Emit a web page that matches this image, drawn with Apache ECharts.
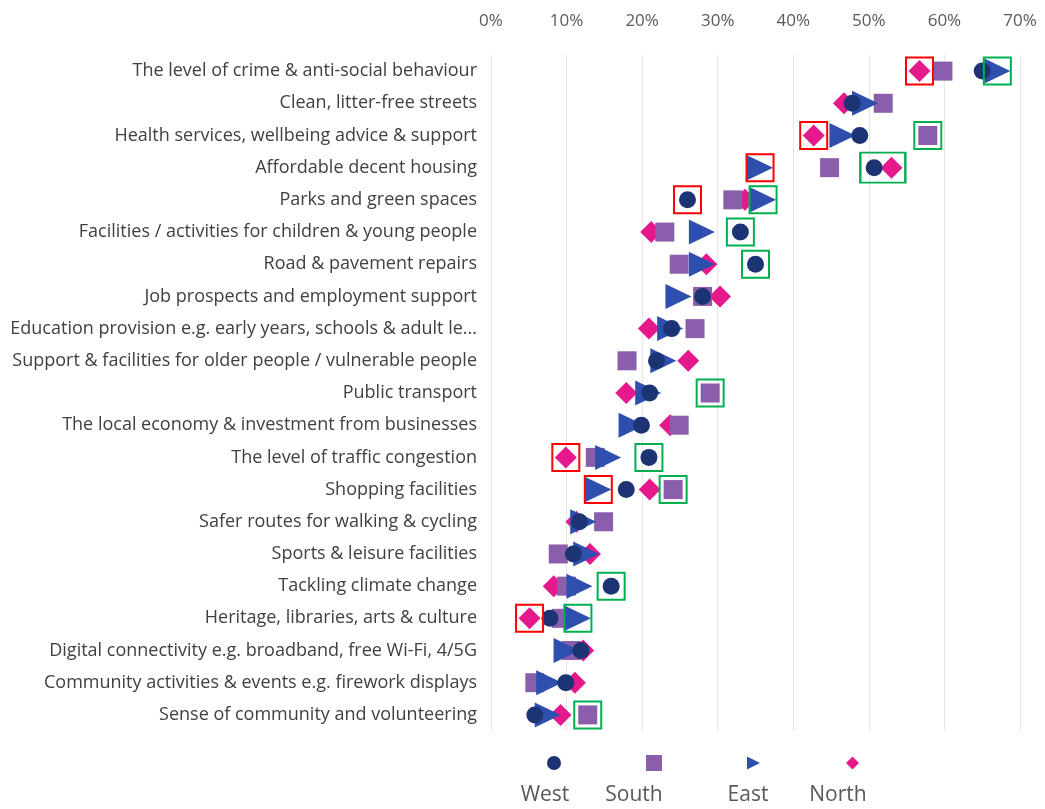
<!DOCTYPE html>
<html>
<head>
<meta charset="utf-8">
<script src="https://cdn.jsdelivr.net/npm/echarts@6/dist/echarts.min.js"></script>
<style>
  html, body { margin: 0; padding: 0; background: #fff; }
  #main { width: 1045px; height: 809px; }
</style>
</head>
<body>
<div id="main"></div>
<script>
// categories, top to bottom
var categories = [
    'The level of crime & anti-social behaviour',
    'Clean, litter-free streets',
    'Health services, wellbeing advice & support',
    'Affordable decent housing',
    'Parks and green spaces',
    'Facilities / activities for children & young people',
    'Road & pavement repairs',
    'Job prospects and employment support',
    'Education provision e.g. early years, schools & adult learning',
    'Support & facilities for older people / vulnerable people',
    'Public transport',
    'The local economy & investment from businesses',
    'The level of traffic congestion',
    'Shopping facilities',
    'Safer routes for walking & cycling',
    'Sports & leisure facilities',
    'Tackling climate change',
    'Heritage, libraries, arts & culture',
    'Digital connectivity e.g. broadband, free Wi-Fi, 4/5G',
    'Community activities & events e.g. firework displays',
    'Sense of community and volunteering'
];
// values in %
var west  = [65, 47.8, 48.8, 50.7, 26, 33, 35, 28, 23.9, 21.9, 21, 19.9, 20.9, 17.9, 11.7, 10.9, 15.9, 7.8, 11.9, 9.9, 5.8];
var south = [59.8, 51.9, 57.8, 44.8, 32, 23, 24.9, 28, 27, 18, 29, 24.9, 13.8, 24.1, 14.9, 8.9, 10, 9.3, 10.6, 5.8, 12.8];
var east  = [67, 49.5, 46.5, 35.6, 36, 27.9, 27.9, 24.8, 23.7, 22.8, 20.8, 18.6, 15.5, 14.2, 12.2, 12.6, 11.7, 11.5, 10, 7.7, 7.5];
var north = [56.7, 46.7, 42.7, 53, 33.6, 21.2, 28.5, 30.3, 20.9, 26.1, 17.9, 23.7, 9.9, 21, 11.3, 13.1, 8.3, 5.1, 12.2, 11.1, 9.2];
var xTicks = [0, 10, 20, 30, 40, 50, 60, 70];

// highlighted points (series, row index)
var redBoxes = [['north', 0], ['north', 2], ['east', 3], ['west', 4], ['north', 12], ['east', 13], ['north', 17]];
var greenBoxes = [['east', 0], ['south', 2], ['east', 4], ['west', 5], ['west', 6], ['south', 10], ['west', 12], ['south', 13], ['west', 16], ['east', 17], ['south', 20]];
var greenWide = [['west', 'north', 3]];

var seriesData = { west: west, south: south, east: east, north: north };
function toPoints(arr) {
    return arr.map(function(v, i) { return [v, categories[i]]; });
}
function boxPoints(list) {
    return list.map(function(b) { return [seriesData[b[0]][b[1]], categories[b[1]]]; });
}

var myChart = echarts.init(document.getElementById('main'));
var labelColor = '#595959';

var option = {
    animation: false,
    grid: {
        left: 491,
        right: 25,
        top: 55,
        bottom: 78
    },
    xAxis: {
        type: 'value',
        position: 'top',
        min: xTicks[0],
        max: xTicks[xTicks.length - 1],
        interval: 10,
        axisLine: { show: false },
        axisTick: { show: false },
        axisLabel: {
            color: labelColor,
            fontSize: 17,
            fontFamily: 'Open Sans',
            margin: 25,
            formatter: '{value}%'
        },
        splitLine: { lineStyle: { color: '#e6e6e6', width: 1 } }
    },
    yAxis: {
        type: 'category',
        inverse: true,
        data: categories,
        axisLine: { show: false },
        axisTick: { show: false },
        axisLabel: {
            color: '#404040',
            fontSize: 18,
            fontFamily: 'Open Sans',
            margin: 14,
            width: 474,
            overflow: 'truncate',
            ellipsis: '...'
        }
    },
    legend: [
        { name: 'West', x: 547, w: 14, h: 14, icon: 'circle' },
        { name: 'South', x: 646, w: 16, h: 16, icon: 'rect' },
        { name: 'East', x: 747, w: 13, h: 14, icon: 'path://M0,0 L10,5 L0,10 Z' },
        { name: 'North', x: 846, w: 13, h: 13, icon: 'diamond' }
    ].map(function(l) {
        return {
            data: [{ name: l.name, icon: l.icon }],
            left: l.x,
            top: 763 - l.h / 2,
            padding: 0,
            itemWidth: l.w,
            itemHeight: l.h,
            formatter: function() { return ''; },
            selectedMode: false
        };
    }),
    graphic: [
        { name: 'West', x: 545 },
        { name: 'South', x: 634 },
        { name: 'East', x: 748 },
        { name: 'North', x: 838 }
    ].map(function(t) {
        return {
            type: 'text',
            x: t.x,
            y: 795,
            style: {
                text: t.name,
                fill: labelColor,
                font: '21px "Open Sans"',
                textAlign: 'center',
                textVerticalAlign: 'middle'
            }
        };
    }),
    series: [
        {
            name: 'North', type: 'scatter', z: 2,
            symbol: 'diamond', symbolSize: 22,
            itemStyle: { color: '#e6198c', opacity: 1 },
            data: toPoints(north)
        },
        {
            name: 'South', type: 'scatter', z: 3,
            symbol: 'rect', symbolSize: 19,
            itemStyle: { color: '#8a5eab', opacity: 1 },
            data: toPoints(south)
        },
        {
            name: 'East', type: 'scatter', z: 4,
            symbol: 'triangle', symbolRotate: -90, symbolSize: [25, 26],
            itemStyle: { color: '#2f4fae', opacity: 1 },
            data: toPoints(east)
        },
        {
            name: 'West', type: 'scatter', z: 5,
            symbol: 'circle', symbolSize: 17,
            itemStyle: { color: '#1c3473', opacity: 1 },
            data: toPoints(west)
        },
        {
            name: 'red', type: 'scatter', z: 6, silent: true,
            symbol: 'rect', symbolSize: [27, 27],
            itemStyle: { color: 'rgba(0,0,0,0)', borderColor: '#ff0000', borderWidth: 2, opacity: 1 },
            data: boxPoints(redBoxes)
        },
        {
            name: 'green', type: 'scatter', z: 6, silent: true,
            symbol: 'rect', symbolSize: [27, 27],
            itemStyle: { color: 'rgba(0,0,0,0)', borderColor: '#00b050', borderWidth: 2, opacity: 1 },
            data: boxPoints(greenBoxes)
        },
        {
            name: 'greenWide', type: 'scatter', z: 6, silent: true,
            symbol: 'rect', symbolSize: [45, 30],
            itemStyle: { color: 'rgba(0,0,0,0)', borderColor: '#00b050', borderWidth: 2, opacity: 1 },
            data: greenWide.map(function(b) {
                return [(seriesData[b[0]][b[2]] + seriesData[b[1]][b[2]]) / 2, categories[b[2]]];
            })
        }
    ]
};
myChart.setOption(option);
window.addEventListener('resize', function() {
    myChart.resize();
});
</script>
</body>
</html>
